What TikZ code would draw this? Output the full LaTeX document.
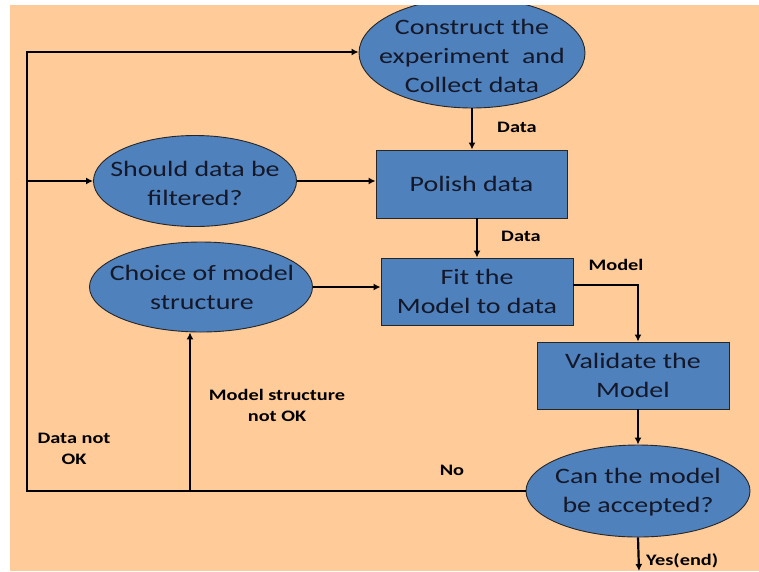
\documentclass[tikz,border=0pt]{standalone}
\usepackage{fontspec}
\setmainfont{Carlito}[FakeStretch=1.27]
\usetikzlibrary{shapes.geometric,arrows.meta}
\definecolor{peach}{RGB}{255,203,153}
\definecolor{boxblue}{RGB}{79,129,189}
\definecolor{ink}{RGB}{20,24,40}
\begin{document}
\begin{tikzpicture}[
  x=1pt, y=-1pt,
  proc/.style={rectangle, draw=black!85, fill=boxblue, line width=0.9pt, inner sep=0pt,
    align=center, text=ink, font=\fontsize{22}{29}\selectfont},
  query/.style={ellipse, draw=black!85, fill=boxblue, line width=0.9pt, inner sep=0pt},
  qtext/.style={align=center, inner sep=0pt, text=ink, font=\fontsize{22}{29}\selectfont},
  flow/.style={draw, line width=2.2pt, -{Latex[length=7pt,width=7pt]}},
  tag/.style={font=\bfseries\fontsize{16}{21}\selectfont, align=center, inner sep=0pt}
]
\useasboundingbox (0,0) rectangle (759,571);
\begin{scope}
\clip (10,5) rectangle (759,571);
\fill[peach] (10,5) rectangle (759,571);
\node [query, minimum width=226, minimum height=110] (construct) at (472,53) {};
\node [qtext] (construct-t) at (472,56) {Construct the\\experiment~ and\\Collect data};
\node [query, minimum width=203, minimum height=91] (filter) at (195,181) {};
\node [qtext] (filter-t) at (195,183) {Should data be\\filtered?};
\node [query, minimum width=223, minimum height=90] (choice) at (201,287) {};
\node [qtext] (choice-t) at (202,287) {Choice of model\\structure};
\node [query, minimum width=224, minimum height=92] (accept) at (638,491) {};
\node [qtext] (accept-t) at (638,492) {Can the model\\be accepted?};
\node [proc, minimum width=191, minimum height=68] (polish) at (471.5,184) {Polish data};
\node [proc, minimum width=192, minimum height=67] (fit) at (477,291.5) {Fit the\\Model to data};
\node [proc, minimum width=192, minimum height=67] (validate) at (633,375.5) {Validate the\\Model};
\coordinate (looptop) at (27,52);
\coordinate (loopbot) at (27,491);
\coordinate (mjoin) at (190,491);
\coordinate (turn) at (638,285);
\coordinate (stop) at (639,571);

\draw [flow] (construct.south) -- (construct.south |- polish.north);
\draw [flow] (polish.south -| fit.north) -- (fit.north);
\draw [flow] ([yshift=6.5pt]fit.east) -- (turn) -- (turn |- validate.north);
\draw [flow] (validate.south -| accept.north) -- (accept.north);
\draw [flow] (accept.south) -- (stop);
\draw [flow] (filter.east) -- (filter.east -| polish.west);
\draw [flow] (choice.east) -- (choice.east -| fit.west);
\draw [flow] (accept.west) -- (loopbot) -- (looptop) -- (looptop -| construct.west);
\draw [flow] (loopbot |- filter.west) -- (filter.west);
\draw [flow] (mjoin) -- (mjoin |- choice.south);

\node [tag] (d1) at (517,127) {Data};
\node [tag] (d2) at (521,236) {Data};
\node [tag] (mdl) at (616,265) {Model};
\node [tag] (no) at (452,470) {No};
\node [tag] (msno) at (277,405) {Model structure\\not OK};
\node [tag] (dno) at (74,449) {Data not\\OK};
\node [tag, anchor=north west] (yes) at (646,553) {Yes(end)};
\end{scope}
\end{tikzpicture}
\end{document}
